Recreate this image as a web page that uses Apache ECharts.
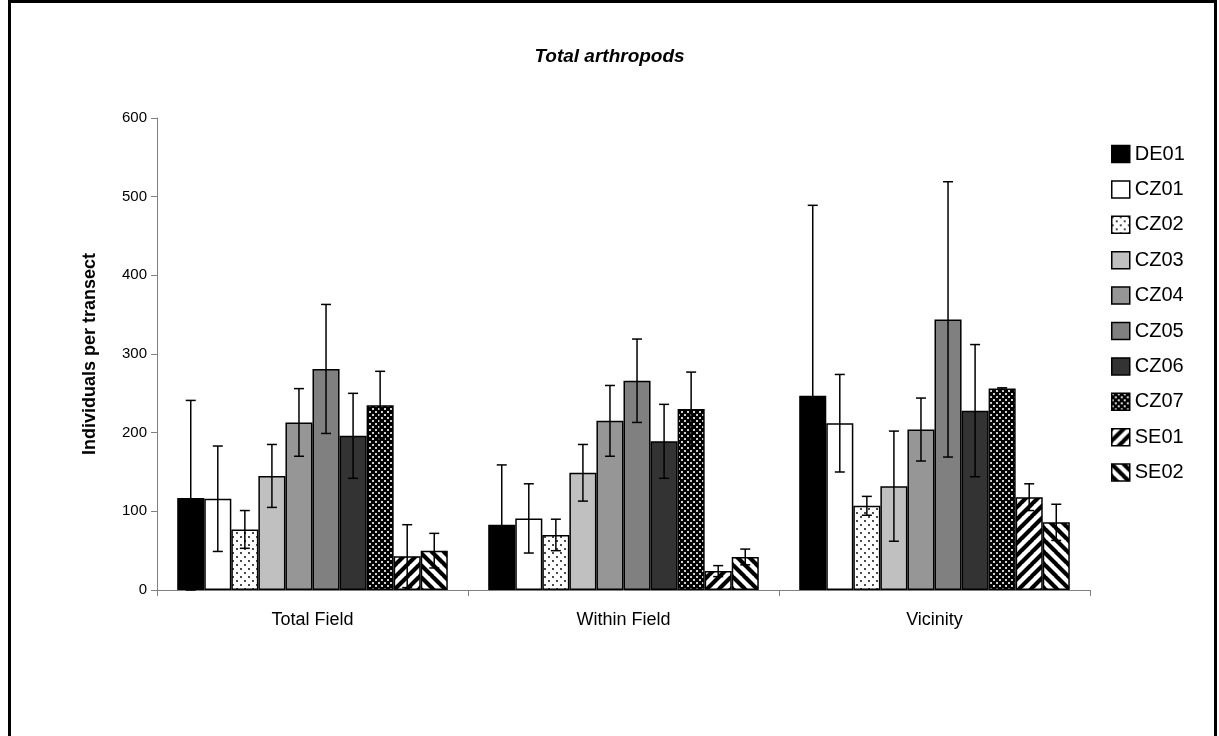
<!DOCTYPE html>
<html>
<head>
<meta charset="utf-8">
<script src="https://cdn.jsdelivr.net/npm/echarts@6/dist/echarts.min.js"></script>
<style>
  html, body { margin: 0; padding: 0; background: #fff; }
  #chart { width: 1219px; height: 736px; }
</style>
</head>
<body>
<div id="chart"></div>
<script>
// Sampling sites and habitat groups
const categories = ['Total Field', 'Within Field', 'Vicinity'];
const siteNames = ['DE01', 'CZ01', 'CZ02', 'CZ03', 'CZ04', 'CZ05', 'CZ06', 'CZ07', 'SE01', 'SE02'];

// Mean individuals per transect (Total Field, Within Field, Vicinity)
const meanDE01 = [117, 83, 247];
const meanCZ01 = [116, 91, 212];
const meanCZ02 = [77, 70, 107];
const meanCZ03 = [145, 149, 132];
const meanCZ04 = [213, 215, 204];
const meanCZ05 = [281, 266, 344];
const meanCZ06 = [196, 189, 228];
const meanCZ07 = [235, 230, 256];
const meanSE01 = [43, 24, 118];
const meanSE02 = [50, 42, 86];

// Error (± half-range of whiskers)
const errDE01 = [124, 76, 242];
const errCZ01 = [67, 44, 62];
const errCZ02 = [24, 20, 12];
const errCZ03 = [40, 36, 70];
const errCZ04 = [43, 45, 40];
const errCZ05 = [82, 53, 175];
const errCZ06 = [54, 47, 84];
const errCZ07 = [43, 47, 1];
const errSE01 = [40, 7, 17];
const errSE02 = [22, 10, 23];

const yTicks = [0, 100, 200, 300, 400, 500, 600];

const means = [meanDE01, meanCZ01, meanCZ02, meanCZ03, meanCZ04, meanCZ05, meanCZ06, meanCZ07, meanSE01, meanSE02];
const errs = [errDE01, errCZ01, errCZ02, errCZ03, errCZ04, errCZ05, errCZ06, errCZ07, errSE01, errSE02];

// ---- fill patterns ----
function dotPattern(size, bg, dot) {
  const c = document.createElement('canvas');
  c.width = size; c.height = size;
  const g = c.getContext('2d');
  g.fillStyle = bg; g.fillRect(0, 0, size, size);
  g.fillStyle = dot;
  g.fillRect(0, 0, 2, 2);
  g.fillRect(size / 2, size / 2, 2, 2);
  return { image: c, repeat: 'repeat' };
}
function stripePattern(dir) {
  const p = 12;
  const c = document.createElement('canvas');
  c.width = p; c.height = p;
  const g = c.getContext('2d');
  g.fillStyle = '#fff'; g.fillRect(0, 0, p, p);
  g.strokeStyle = '#000'; g.lineWidth = 4.2;
  g.beginPath();
  if (dir === 'up') {
    for (let k = -1; k <= 1; k++) {
      g.moveTo(k * p - 1, p + 1); g.lineTo(k * p + p + 1, -1);
    }
  } else {
    for (let k = -1; k <= 1; k++) {
      g.moveTo(k * p - 1, -1); g.lineTo(k * p + p + 1, p + 1);
    }
  }
  g.stroke();
  return { image: c, repeat: 'repeat' };
}

const fills = [
  '#000000',
  '#ffffff',
  dotPattern(8, '#ffffff', '#4a4a4a'),
  '#c0c0c0',
  '#969696',
  '#808080',
  '#333333',
  dotPattern(6, '#000000', '#d0d0d0'),
  stripePattern('up'),
  stripePattern('down')
];

const FONT = 'Liberation Sans, Arial, sans-serif';
const CAT_GAP = 0.13;

const barSeries = siteNames.map((name, i) => ({
  name: name,
  type: 'bar',
  barGap: '0%',
  barCategoryGap: (CAT_GAP * 100) + '%',
  data: means[i],
  itemStyle: { color: fills[i], borderColor: '#000', borderWidth: 1.5 },
  emphasis: { disabled: true },
  z: 2
}));

// error bar data: [category index, site index, mean, err]
const errData = [];
siteNames.forEach((_, i) => {
  categories.forEach((_, j) => errData.push([j, i, means[i][j], errs[i][j]]));
});

const errorSeries = {
  type: 'custom',
  name: 'errorbars',
  data: errData,
  z: 5,
  silent: true,
  encode: { x: 0, y: 2 },
  renderItem: function (params, api) {
    const cat = api.value(0);
    const idx = api.value(1);
    const m = api.value(2);
    const e = api.value(3);
    const band = api.size([1, 0])[0];
    const total = band * (1 - CAT_GAP);
    const bw = total / siteNames.length;
    const base = api.coord([cat, m]);
    const cx = base[0] - total / 2 + bw * (idx + 0.5);
    const top = api.coord([cat, m + e])[1];
    const bot = api.coord([cat, Math.max(m - e, 0)])[1];
    const cap = 5;
    const st = { stroke: '#000', lineWidth: 1.5 };
    return {
      type: 'group',
      children: [
        { type: 'line', shape: { x1: cx, y1: top, x2: cx, y2: bot }, style: st },
        { type: 'line', shape: { x1: cx - cap, y1: top, x2: cx + cap, y2: top }, style: st },
        { type: 'line', shape: { x1: cx - cap, y1: bot, x2: cx + cap, y2: bot }, style: st }
      ]
    };
  }
};

const chart = echarts.init(document.getElementById('chart'), null, { renderer: 'canvas' });
chart.setOption({
  animation: false,
  backgroundColor: '#ffffff',
  textStyle: { fontFamily: FONT, color: '#000' },
  title: {
    text: 'Total arthropods',
    left: 'center',
    top: 42,
    textStyle: { fontFamily: FONT, fontSize: 19, fontWeight: 'bold', fontStyle: 'italic', color: '#000' }
  },
  legend: {
    data: siteNames,
    orient: 'vertical',
    left: 1106,
    top: 139,
    itemWidth: 18,
    itemHeight: 17,
    itemGap: 15.4,
    icon: 'rect',
    selectedMode: false,
    textStyle: { fontFamily: FONT, fontSize: 20, color: '#000' },
    itemStyle: { borderColor: '#000', borderWidth: 1.5 }
  },
  grid: { left: 157, right: 129, top: 118, bottom: 146, containLabel: false },
  xAxis: {
    type: 'category',
    data: categories,
    axisLine: { lineStyle: { color: '#808080', width: 1 } },
    axisTick: { show: true, alignWithLabel: false, length: 6, lineStyle: { color: '#808080' } },
    axisLabel: { fontFamily: FONT, fontSize: 18, color: '#000', margin: 21 },
    splitLine: { show: false }
  },
  yAxis: {
    type: 'value',
    min: yTicks[0],
    max: yTicks[yTicks.length - 1],
    interval: yTicks[1] - yTicks[0],
    name: 'Individuals per transect',
    nameLocation: 'middle',
    nameGap: 58,
    nameTextStyle: { fontFamily: FONT, fontSize: 18, fontWeight: 'bold', color: '#000' },
    axisLine: { show: true, lineStyle: { color: '#808080', width: 1 } },
    axisTick: { show: true, length: 6, lineStyle: { color: '#808080' } },
    axisLabel: { fontFamily: FONT, fontSize: 15, color: '#000', margin: 10 },
    splitLine: { show: false }
  },
  graphic: [{
    type: 'rect',
    silent: true,
    shape: { x: 9.5, y: 1.5, width: 1206, height: 800 },
    style: { fill: 'none', stroke: '#000', lineWidth: 3 },
    z: 100
  }],
  series: barSeries.concat([errorSeries])
});
</script>
</body>
</html>
